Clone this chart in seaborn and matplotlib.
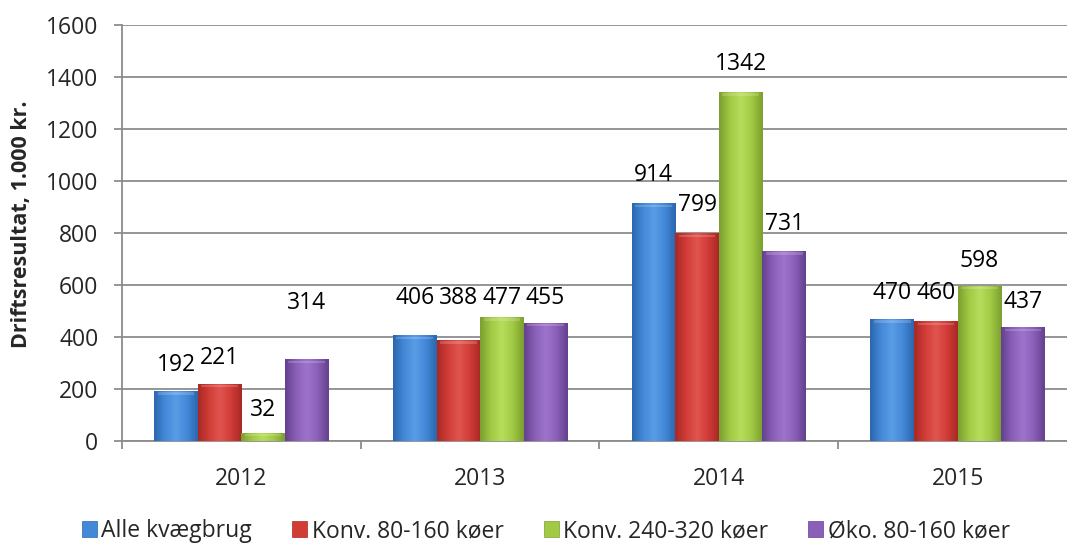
import numpy as np
import pandas as pd
import matplotlib
matplotlib.use("Agg")
import matplotlib.pyplot as plt
import matplotlib.colors as mcolors
from matplotlib.patches import Patch
import seaborn as sns

years = ["2012", "2013", "2014", "2015"]
series = ["Alle kvægbrug", "Konv. 80-160 køer", "Konv. 240-320 køer", "Øko. 80-160 køer"]
alle = [192, 406, 914, 470]
konv_80 = [221, 388, 799, 460]
konv_240 = [32, 477, 1342, 598]
oeko_80 = [314, 455, 731, 437]
y_ticks = [0, 200, 400, 600, 800, 1000, 1200, 1400, 1600]
y_label = "Driftsresultat, 1.000 kr."

# colours: (edge dark, centre, light)
colors_mid = ["#4389D8", "#D23C37", "#A2CA44", "#8A5FB8"]
colors_dark = ["#2C67AE", "#A82925", "#7C9F2F", "#64418E"]
colors_light = ["#5A9DE6", "#E05550", "#B6DD5C", "#9D74CB"]
# label lift above bar top in pixels (manual placement in original)
label_lift = [[26, 37, 28, 26],
              [26, 42, 28, 28],
              [23, 19, 28, 25],
              [56, 25, 27, 25]]

values = [alle, konv_80, konv_240, oeko_80]
df = pd.DataFrame({
    "year": np.repeat([years], 4, axis=0).ravel(),
    "series": np.repeat(series, 4),
    "value": np.concatenate(values),
})

sns.set_style("white")
plt.rcParams["font.family"] = ["Open Sans", "DejaVu Sans"]

fig = plt.figure(figsize=(10.67, 5.43), dpi=100)
ax = fig.add_axes([122 / 1067, 102 / 543, 955 / 1067, 416 / 543])

sns.barplot(data=df, x="year", y="value", hue="series", order=years,
            hue_order=series, palette=colors_mid, width=0.73, saturation=1,
            ax=ax, legend=False, linewidth=0, zorder=3)

ax.set_ylim(0, 1600)
ax.set_xlim(-0.5, 3.5)
ax.set_yticks(y_ticks)
ax.set_xlabel("")
ax.set_ylabel("")

# gradient fill on bars
bars = [p for p in ax.patches if p.get_height() > 0]
mid_hex = [mcolors.to_hex(c) for c in colors_mid]
for p in bars:
    si = mid_hex.index(mcolors.to_hex(p.get_facecolor()))
    cmap = mcolors.LinearSegmentedColormap.from_list(
        "g", [colors_dark[si], colors_mid[si], colors_light[si], colors_mid[si], colors_dark[si]])
    x0, y0 = p.get_x(), p.get_y()
    w, h = p.get_width(), p.get_height()
    grad = np.linspace(0, 1, 64).reshape(1, -1)
    im = ax.imshow(grad, cmap=cmap, extent=(x0, x0 + w, y0, y0 + h),
                   aspect="auto", zorder=3.5, interpolation="bicubic")
    im.set_clip_path(p)
    bev = min(h, 16)
    ax.add_patch(plt.Rectangle((x0 + w * 0.08, y0 + h - bev * 0.9), w * 0.84, bev * 0.6,
                               facecolor="white", alpha=0.18, lw=0, zorder=3.6))
ax.set_xlim(-0.5, 3.5)
ax.set_ylim(0, 1600)

fs = 16.5
# data labels
for si, cont in enumerate(ax.containers):
    for yi, rect in enumerate(cont):
        v = values[si][yi]
        ax.annotate(f"{v}", (rect.get_x() + rect.get_width() / 2, v),
                    xytext=(0, label_lift[si][yi] * 0.72), textcoords="offset points",
                    ha="center", va="center", fontsize=fs, color="black", zorder=5)

# axes styling
grid_c = "#8C8C8C"
ax.yaxis.grid(True, color=grid_c, lw=1.3, zorder=0)
ax.xaxis.grid(False)
for s in ["top", "right"]:
    ax.spines[s].set_visible(False)
for s in ["left", "bottom"]:
    ax.spines[s].set_color(grid_c)
    ax.spines[s].set_linewidth(1.3)
ax.tick_params(axis="y", which="major", length=6, width=1.3, color=grid_c,
               labelsize=fs, pad=11, left=True)
ax.tick_params(axis="x", which="major", length=0, labelsize=fs, pad=19)
ax.set_xticks([-0.5, 0.5, 1.5, 2.5, 3.5], minor=True)
ax.tick_params(axis="x", which="minor", length=6, width=1.3, color=grid_c, bottom=True)

fig.text(22 / 1067, 1 - 224 / 543, y_label, rotation=90, ha="center", va="center",
         fontsize=15.5, fontweight="bold")

handles = [Patch(facecolor=c, edgecolor=d, lw=0.5) for c, d in zip(colors_mid, colors_dark)]
fig.legend(handles, series, loc="center", bbox_to_anchor=(546 / 1067, 12 / 543),
           ncol=4, frameon=False, fontsize=fs, handlelength=0.65, handleheight=0.65,
           handletextpad=0.2, columnspacing=1.75, borderaxespad=0)

fig.savefig("out.png", dpi=100)
